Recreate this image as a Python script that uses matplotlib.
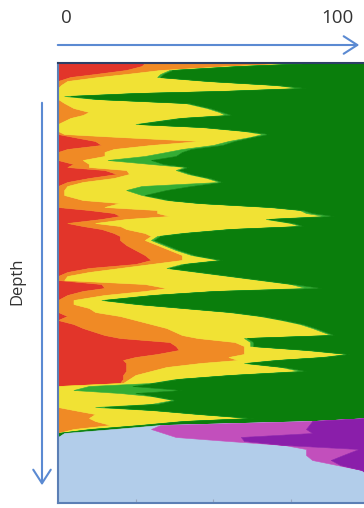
import numpy as np
import matplotlib
matplotlib.use("Agg")
import matplotlib.pyplot as plt
from matplotlib.patches import FancyArrowPatch

plt.rcParams['font.family'] = ['Open Sans', 'DejaVu Sans']

# depth of each sample (arbitrary units, 0 = top of core)
depth = [0, 3, 7, 11, 14, 18, 22, 25, 28, 30, 33, 36, 40, 45, 49, 52, 55, 58, 61, 64,
         68, 71, 74, 78, 82, 86, 89, 93, 97, 101, 104, 107, 111, 115, 119, 123, 127, 132, 137, 140,
         144, 147, 150, 153, 156, 160, 163, 166, 170, 173, 177, 182, 187, 192, 197, 201, 205, 209, 213, 217,
         221, 225, 228, 232, 237, 241, 245, 249, 253, 257, 261, 265, 272, 275, 279, 283, 287, 291, 294, 297,
         300, 304, 308, 312, 316, 320, 323, 327, 330, 333, 337, 341, 344, 347, 351, 355, 358, 362, 366, 370,
         374, 378, 382, 386, 392, 397, 402, 407, 412, 440]

# percentage of each class at each depth
red = [28, 27, 22, 12, 4, 0, 0, 0, 0, 0, 0, 0, 0, 0, 0, 0, 0, 0, 0, 0,
       0, 0, 5, 12, 14, 3, 0, 0, 0, 5, 3, 15, 19, 10, 3, 0, 0, 0, 0, 0,
       0, 10, 18, 20, 14, 3, 8, 14, 18, 20, 20, 22, 25, 28, 30, 25, 10, 3, 0, 0,
       14, 15, 8, 3, 0, 0, 0, 0, 3, 0, 5, 8, 15, 20, 36, 38, 39, 32, 25, 21,
       22, 22, 22, 21, 21, 20, 0, 0, 0, 0, 0, 0, 0, 0, 0, 0, 0, 0, 0, 0,
       0, 0, 0, 0, 0, 0, 0, 0, 0, 0]
orange = [50, 28, 11, 10, 9, 3, 1, 0, 0, 0, 0, 0, 2, 5, 10, 8, 4, 2, 0, 0,
          0, 2, 15, 34, 16, 15, 15, 15, 8, 5, 7, 7, 4, 8, 5, 3, 2, 2, 8, 20,
          15, 22, 14, 16, 8, 9, 12, 8, 10, 10, 8, 10, 11, 12, 10, 5, 10, 7, 3, 2,
          14, 20, 20, 12, 5, 5, 10, 12, 17, 25, 25, 27, 25, 25, 21, 22, 21, 28, 30, 37,
          24, 13, 8, 4, 2, 1, 0, 0, 0, 0, 0, 0, 0, 5, 12, 10, 12, 17, 5, 0,
          0, 0, 0, 0, 0, 0, 0, 0, 0, 0]
yellow = [4, 3, 3, 11, 19, 45, 69, 78, 52, 25, 2, 12, 39, 43, 42, 46, 35, 30, 25, 46,
          60, 64, 42, 9, 20, 22, 20, 13, 8, 20, 31, 16, 19, 30, 44, 24, 20, 25, 27, 25,
          53, 46, 48, 50, 45, 63, 58, 33, 12, 2, 2, 2, 2, 3, 12, 10, 15, 35, 52, 63,
          47, 45, 22, 15, 9, 20, 30, 43, 45, 47, 48, 47, 48, 15, 5, 2, 20, 33, 30, 12,
          14, 37, 48, 30, 15, 9, 10, 5, 20, 30, 37, 30, 12, 25, 33, 52, 28, 9, 5, 0,
          0, 0, 0, 0, 0, 0, 0, 0, 0, 0]
light_green = [1, 1, 1, 1, 1, 1, 1, 2, 1, 1, 2, 1, 1, 1, 1, 2, 1, 1, 1, 1,
               1, 2, 1, 2, 3, 3, 5, 10, 14, 4, 1, 1, 1, 1, 1, 16, 13, 1, 1, 1,
               1, 1, 2, 3, 1, 1, 1, 1, 1, 1, 1, 1, 1, 1, 1, 1, 1, 1, 1, 1,
               1, 5, 1, 1, 1, 1, 1, 1, 1, 1, 1, 1, 1, 1, 1, 1, 1, 1, 1, 1,
               1, 1, 2, 1, 1, 1, 14, 35, 5, 1, 1, 2, 3, 1, 1, 1, 1, 1, 1, 0,
               0, 0, 0, 0, 0, 0, 0, 0, 0, 0]
dark_green = [17, 41, 63, 66, 67, 51, 29, 20, 47, 74, 96, 87, 58, 51, 47, 44, 60, 67, 74, 53,
              39, 32, 37, 43, 47, 57, 60, 62, 70, 66, 58, 61, 57, 51, 47, 57, 65, 72, 64, 54,
              31, 21, 18, 11, 32, 24, 21, 44, 59, 67, 69, 65, 61, 56, 47, 59, 64, 54, 44, 34,
              24, 15, 49, 69, 85, 74, 59, 44, 34, 27, 21, 17, 11, 39, 37, 37, 19, 6, 14, 29,
              39, 27, 20, 44, 61, 69, 76, 60, 75, 69, 62, 68, 85, 69, 54, 37, 41, 6, 7, 2,
              0, 0, 0, 0, 0, 0, 0, 0, 0, 0]
light_blue = [0] * 96 + [0, 0, 12, 32, 38, 55, 73, 80, 80, 82, 90, 98, 100, 100]
magenta = [0] * 96 + [0, 48, 50, 48, 21, 5, 0, 17, 12, 6, 1, 0, 0, 0]
purple = [0] * 96 + [18, 19, 20, 18, 41, 40, 27, 3, 8, 12, 9, 2, 0, 0]

classes = [red, orange, yellow, light_green, dark_green, light_blue, magenta, purple]
colors = ['#e2352a', '#f08a25', '#f1e234', '#34ad34', '#0a7e0c', '#b2cdea', '#c24fbc', '#8a1eaa']

W, H = 364, 508
fig = plt.figure(figsize=(W / 100, H / 100), dpi=100)
ax = fig.add_axes([58 / W, 5 / H, 310 / W, 440 / H])

d = np.array(depth, dtype=float)
vals = np.array(classes, dtype=float)
cum = np.vstack([np.zeros(len(d)), np.cumsum(vals, axis=0)])
for i, col in enumerate(colors):
    ax.fill_betweenx(d, cum[i], cum[i + 1], color=col, lw=0.4, edgecolor=col)

ax.set_xlim(0, 100)
ax.set_ylim(440, 0)
ax.set_xticks([25, 50, 75])
ax.set_yticks([])
ax.tick_params(axis='x', direction='in', length=3, color='#9aa8c0', labelbottom=False)
for s in ['left', 'bottom']:
    ax.spines[s].set_color('#5b7fb5')
    ax.spines[s].set_linewidth(1.5)
ax.spines['top'].set_color('#2d3f66')
ax.spines['top'].set_linewidth(1.5)

arrow_col = '#5b8ad2'
# percentage arrow (top) and depth arrow (left)
fig.patches.append(FancyArrowPatch((55 / W, 1 - 45 / H), (362 / W, 1 - 45 / H),
                                   transform=fig.transFigure, arrowstyle='->,head_length=0.7,head_width=0.45',
                                   mutation_scale=14, color=arrow_col, lw=1.5))
fig.patches.append(FancyArrowPatch((42 / W, 1 - 100 / H), (42 / W, 1 - 488 / H),
                                   transform=fig.transFigure, arrowstyle='->,head_length=0.7,head_width=0.45',
                                   mutation_scale=14, color=arrow_col, lw=1.5))

fig.text(66 / W, 1 - 18 / H, '0', ha='center', va='center', fontsize=13.5, color='#333333')
fig.text(337 / W, 1 - 18 / H, '100', ha='center', va='center', fontsize=13.5, color='#333333')
fig.text(17 / W, 1 - 281 / H, 'Depth', ha='center', va='center', rotation=90, fontsize=12, color='#333333')

fig.savefig('out.png', dpi=100)
